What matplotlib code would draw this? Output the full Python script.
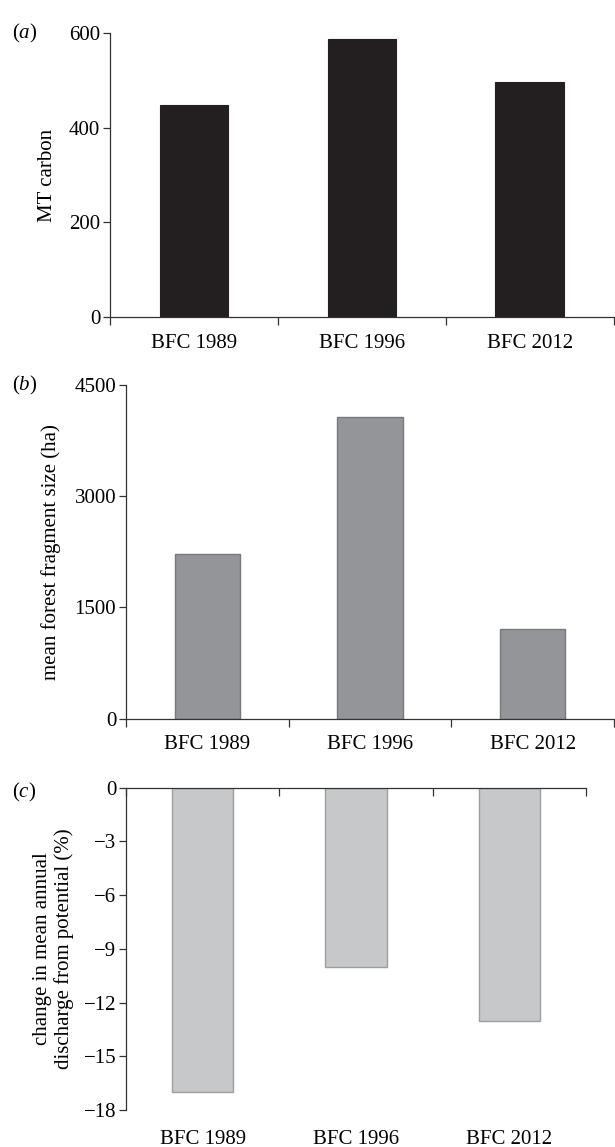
import matplotlib
matplotlib.use("Agg")
import matplotlib.pyplot as plt
from matplotlib.ticker import FixedLocator

plt.rcParams['font.family'] = ['Liberation Serif', 'DejaVu Serif']
plt.rcParams['font.size'] = 15
plt.rcParams['mathtext.fontset'] = 'custom'
plt.rcParams['mathtext.rm'] = 'Liberation Serif'
plt.rcParams['mathtext.it'] = 'Liberation Serif:italic'

# data
categories = ['BFC 1989', 'BFC 1996', 'BFC 2012']
carbon = [447, 588, 497]
fragment_size = [2216, 4073, 1214]
discharge_change = [-17, -10, -13]

carbon_ticks = [0, 200, 400, 600]
fragment_ticks = [0, 1500, 3000, 4500]
discharge_ticks = [0, -3, -6, -9, -12, -15, -18]

fig = plt.figure(figsize=(6.15, 11.47), dpi=100)

ax_a = fig.add_axes([0.179, 0.7236, 0.819, 0.2476])
ax_b = fig.add_axes([0.2049, 0.3734, 0.7935, 0.2909])
ax_c = fig.add_axes([0.2049, 0.0322, 0.748, 0.2811])

x = range(len(categories))
bounds = [i - 0.5 for i in range(len(categories) + 1)]


def style(ax, ticks, ylabel, lab_x):
    ax.set_xlim(-0.5, len(categories) - 0.5)
    ax.set_ylim(min(ticks), max(ticks))
    ax.set_yticks(ticks)
    ax.set_xticks(list(x))
    ax.set_xticklabels(categories)
    ax.xaxis.set_minor_locator(FixedLocator(bounds))
    ax.tick_params(axis='x', which='major', length=0, pad=12)
    ax.tick_params(axis='x', which='minor', length=6, width=0.9, color='#333333')
    ax.tick_params(axis='y', length=5, width=0.9, color='#333333', pad=2)
    for s in ['left', 'bottom', 'top', 'right']:
        ax.spines[s].set_color('#333333')
        ax.spines[s].set_linewidth(0.9)
    ax.spines['right'].set_visible(False)
    ax.set_ylabel(ylabel, fontsize=15, linespacing=1.2)
    ax.yaxis.set_label_coords(lab_x, 0.5)


ax_a.bar(x, carbon, width=0.41, color='#231f20', edgecolor='#231f20', linewidth=0.8)
style(ax_a, carbon_ticks, 'MT carbon', -0.105)
ax_a.spines['top'].set_visible(False)

ax_b.bar(x, fragment_size, width=0.40, color='#939598', edgecolor='#77787b', linewidth=1.0)
style(ax_b, fragment_ticks, 'mean forest fragment size (ha)', -0.133)
ax_b.spines['top'].set_visible(False)

ax_c.bar(x, discharge_change, width=0.40, color='#c7c8ca', edgecolor='#9d9ea0', linewidth=1.0)
style(ax_c, discharge_ticks, 'change in mean annual\ndischarge from potential (%)', -0.112)
ax_c.spines['bottom'].set_visible(False)
ax_c.tick_params(axis='x', which='minor', top=True, bottom=False, direction='in')
ax_c.tick_params(axis='x', which='major', top=False, bottom=False, labelbottom=True, pad=14)

for letter, ypix in [('a', 33), ('b', 385), ('c', 792)]:
    fig.text(12 / 615, 1 - ypix / 1147, '($\\mathit{' + letter + '}$)',
             ha='left', va='center', fontsize=15)

fig.savefig('out.png', dpi=100)
